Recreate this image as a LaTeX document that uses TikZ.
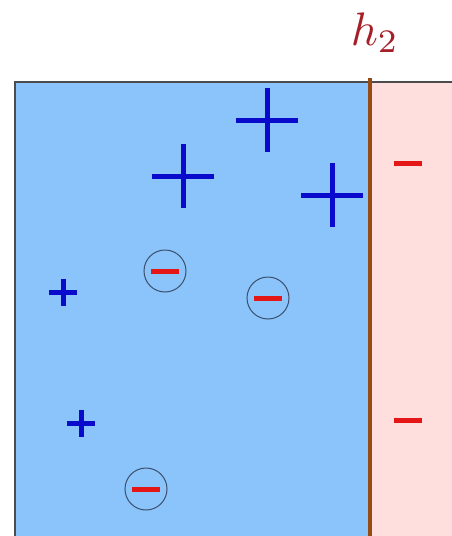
\documentclass[tikz,border=0pt]{standalone}
\definecolor{bluefill}{RGB}{138,196,250}
\definecolor{pinkfill}{RGB}{255,222,222}
\definecolor{wallbrown}{RGB}{150,75,20}
\definecolor{plusblue}{RGB}{10,10,205}
\definecolor{minusred}{RGB}{228,22,22}
\definecolor{ringgray}{RGB}{60,80,110}
\definecolor{labelred}{RGB}{165,30,40}
\begin{document}
\begin{tikzpicture}[x=1pt,y=-1pt,
  plussign/.style={draw=plusblue,line width=5pt},
  minussign/.style={draw=minusred,line width=5pt},
  ring/.style={draw=ringgray,line width=1pt},
  frame/.style={draw=black!70,line width=1.2pt}]
\useasboundingbox (0,0) rectangle (452,536);
\fill[bluefill] (15,82) rectangle (370,536);
\fill[pinkfill] (370,82) rectangle (452,536);
\draw[frame] (15,536) -- (15,82) -- (452,82);
\draw[wallbrown,line width=4pt] (370,78) -- (370,536);
\node[text=labelred,scale=4.7,anchor=base,inner sep=0pt] (lab) at (375,45) {$h_2$};
% big plus signs
\foreach \n/\x/\y in {pa/267/120,pb/183/176,pc/332/195}{
  \coordinate (\n) at (\x,\y);
  \draw[plussign] ([xshift=-31pt]\n) -- ([xshift=31pt]\n);
  \draw[plussign] ([yshift=-32pt]\n) -- ([yshift=32pt]\n);
}
% small plus signs
\foreach \n/\x/\y in {pd/63/292,pe/81/423}{
  \coordinate (\n) at (\x,\y);
  \draw[plussign] ([xshift=-14pt]\n) -- ([xshift=14pt]\n);
  \draw[plussign] ([yshift=-13.5pt]\n) -- ([yshift=13.5pt]\n);
}
% circled minus signs
\foreach \n/\x/\y in {ma/165/271,mb/268/298,mc/146/489}{
  \coordinate (\n) at (\x,\y);
  \draw[ring] (\n) circle (21);
  \draw[minussign] ([xshift=-14pt]\n) -- ([xshift=14pt]\n);
}
% free minus signs
\foreach \n/\x/\y in {md/408/163,me/408/420}{
  \coordinate (\n) at (\x,\y);
  \draw[minussign] ([xshift=-14pt]\n) -- ([xshift=14pt]\n);
}
\end{tikzpicture}
\end{document}
